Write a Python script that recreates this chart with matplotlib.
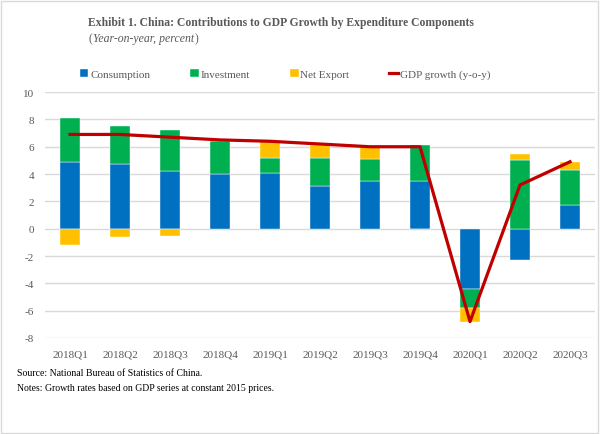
import numpy as np
import matplotlib.pyplot as plt
from matplotlib.patches import Rectangle

quarters = ['2018Q1', '2018Q2', '2018Q3', '2018Q4', '2019Q1', '2019Q2',
            '2019Q3', '2019Q4', '2020Q1', '2020Q2', '2020Q3']
consumption = [4.9, 4.7, 4.2, 4.0, 4.1, 3.1, 3.5, 3.5, -4.4, -2.3, 1.7]
investment = [3.2, 2.8, 3.0, 2.4, 1.1, 2.1, 1.6, 2.6, -1.4, 5.0, 2.6]
net_export = [-1.2, -0.6, -0.5, 0.1, 1.2, 0.9, 0.9, -0.1, -1.0, 0.5, 0.6]
gdp_growth = [6.9, 6.9, 6.7, 6.5, 6.4, 6.2, 6.0, 6.0, -6.8, 3.2, 4.9]

plt.rcParams['font.family'] = ['Liberation Serif', 'DejaVu Serif']
plt.rcParams['axes.unicode_minus'] = False
grey = '#595959'

fig = plt.figure(figsize=(6, 4.35), dpi=100)
ax = fig.add_axes([0.075, 0.2207, 0.9167, 0.5653])

x = np.arange(len(quarters))
pos_base = np.zeros(len(x))
neg_base = np.zeros(len(x))
series = [(consumption, '#0070C0', 'Consumption'),
          (investment, '#00B050', 'Investment'),
          (net_export, '#FFC000', 'Net Export')]
for vals, col, lab in series:
    vals = np.array(vals)
    bottom = np.where(vals >= 0, pos_base, neg_base)
    ax.bar(x, vals, width=0.4, bottom=bottom, color=col, label=lab,
           edgecolor='white', linewidth=0.3, zorder=2)
    pos_base = pos_base + np.where(vals >= 0, vals, 0)
    neg_base = neg_base + np.where(vals < 0, vals, 0)

ax.plot(x, gdp_growth, color='#C00000', linewidth=2.3, label='GDP growth (y-o-y)', zorder=3)

ax.set_xlim(-0.5, len(x) - 0.5)
ax.set_ylim(-8, 10)
ax.set_yticks(np.arange(-8, 11, 2))
ax.set_xticks(x)
ax.set_xticklabels(quarters)
ax.tick_params(length=0, labelsize=8, colors=grey, pad=8)
ax.grid(axis='y', color='#d9d9d9', linewidth=1, zorder=0)
ax.set_axisbelow(True)
for s in ax.spines.values():
    s.set_visible(False)

handles, labels = ax.get_legend_handles_labels()
order = [1, 2, 3, 0]
fig.legend([handles[i] for i in order], [labels[i] for i in order],
           loc='center', bbox_to_anchor=(0.475, 0.828), ncol=4, frameon=False,
           fontsize=8, handlelength=0.8, handleheight=0.8, handletextpad=0.15,
           columnspacing=3.6, labelcolor=grey)

fig.text(0.147, 0.948, 'Exhibit 1. China: Contributions to GDP Growth by Expenditure Components',
         fontsize=8.4, fontweight='bold', color=grey, va='center')
t1 = fig.text(0.147, 0.91, '(', fontsize=8.5, color=grey, va='center')
t2 = ax.annotate('Year-on-year, percent', xy=(1, 0.5), xycoords=t1, xytext=(0.5, 0),
                 textcoords='offset points', fontsize=8.5, style='italic', color=grey,
                 va='center', annotation_clip=False)
ax.annotate(')', xy=(1, 0.5), xycoords=t2, xytext=(0.5, 0), textcoords='offset points',
            fontsize=8.5, color=grey, va='center', annotation_clip=False)

fig.text(0.028, 0.142, 'Source: National Bureau of Statistics of China.', fontsize=7, va='center')
fig.text(0.028, 0.108, 'Notes: Growth rates based on GDP series at constant 2015 prices.', fontsize=7, va='center')

fig.patches.append(Rectangle((0.002, 0.002), 0.994, 0.994, transform=fig.transFigure,
                             fill=False, edgecolor='#d9d9d9', linewidth=1))

fig.savefig('out.png', dpi=100)
